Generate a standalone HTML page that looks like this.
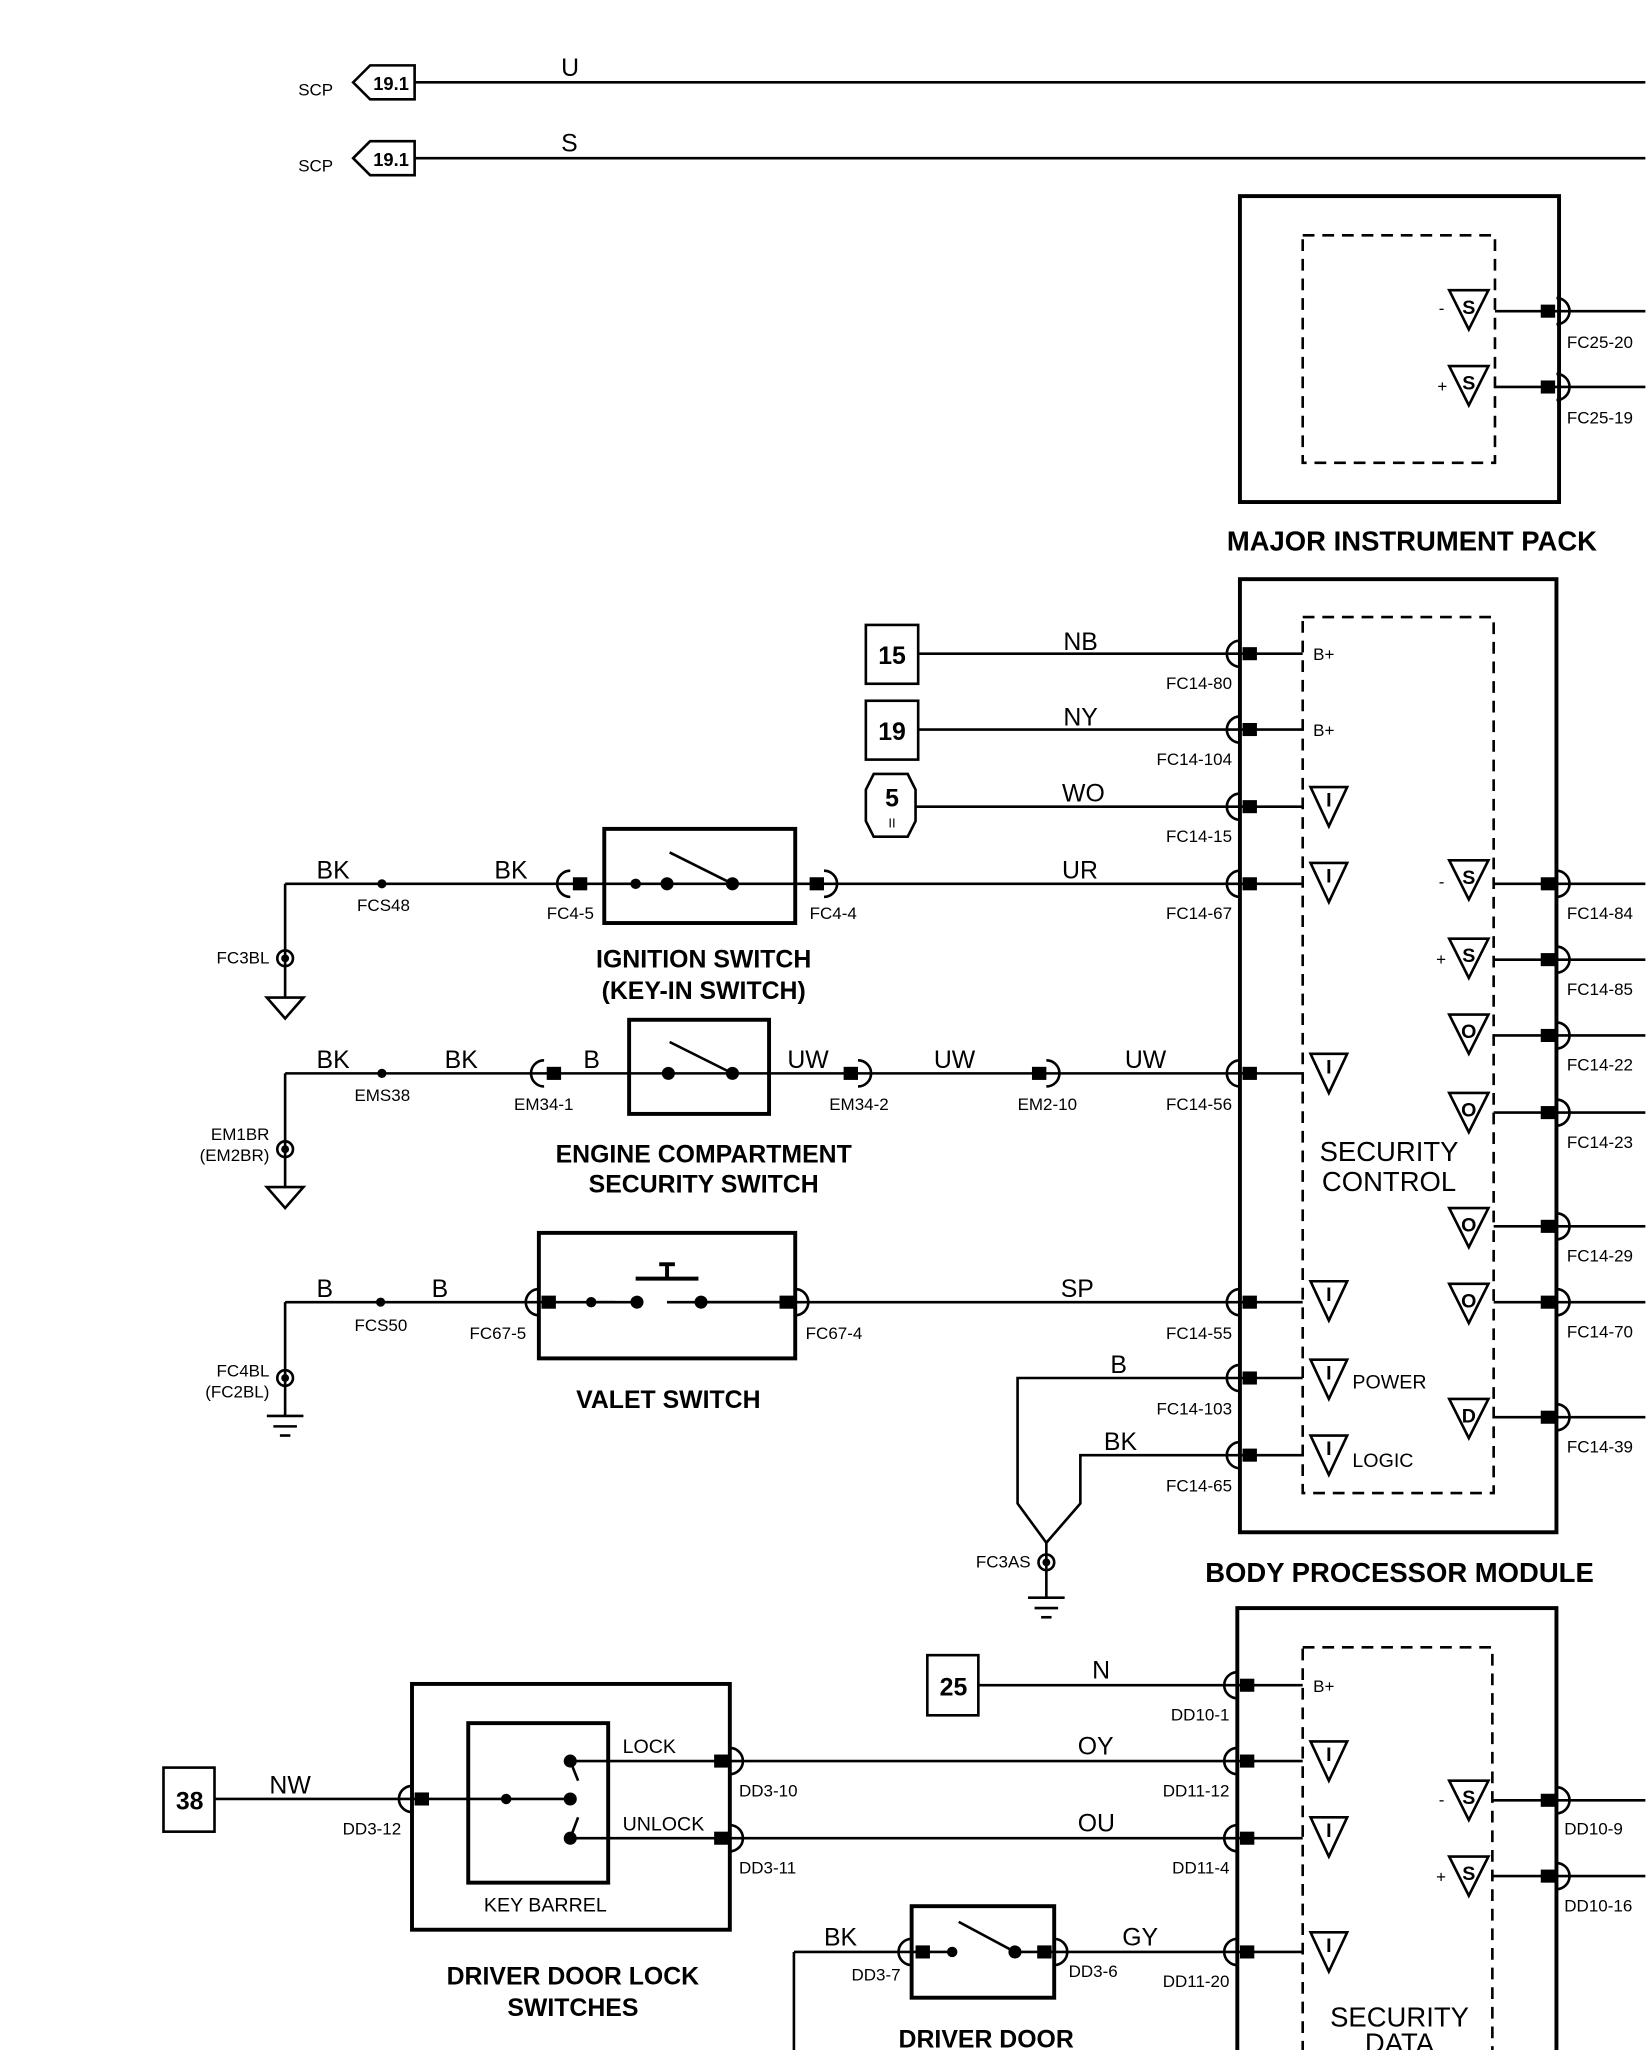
<!DOCTYPE html>
<html><head><meta charset="utf-8"><style>
html,body{margin:0;padding:0;background:#fff}
svg{display:block}
text{font-family:"Liberation Sans",sans-serif;fill:#000}
.s{font-size:13px}
.w{font-size:19px}
.t{font-size:21px;font-weight:bold}
.tl{font-size:19px;font-weight:bold;text-anchor:middle}
.bx{font-size:19px;font-weight:bold;text-anchor:middle}
.tri{font-size:15px;font-weight:bold;text-anchor:middle}
</style></head><body>
<svg width="1648" height="2050" viewBox="0 0 1260 1568" preserveAspectRatio="none" xmlns="http://www.w3.org/2000/svg">
<g stroke="#000" fill="none" stroke-width="2">
<path d="M270,63 L283,50 L317,50 L317,76 L283,76 Z"/>
<path d="M270,121 L283,108 L317,108 L317,134 L283,134 Z"/>
<line x1="317" y1="63" x2="1258" y2="63"/>
<line x1="317" y1="121" x2="1258" y2="121"/>
<rect x="948" y="150" width="244" height="234" stroke-width="3"/>
<rect x="996" y="180" width="147" height="174" stroke-dasharray="9,6"/>
<line x1="1143" y1="238" x2="1258" y2="238"/>
<line x1="1143" y1="296" x2="1258" y2="296"/>
<rect x="948" y="443" width="242" height="729" stroke-width="3"/>
<rect x="996" y="472" width="146" height="670" stroke-dasharray="9,6"/>
<line x1="702" y1="500" x2="996" y2="500"/>
<line x1="702" y1="558" x2="996" y2="558"/>
<line x1="700" y1="617" x2="996" y2="617"/>
<line x1="218" y1="676" x2="996" y2="676"/>
<line x1="218" y1="821" x2="996" y2="821"/>
<line x1="218" y1="996" x2="996" y2="996"/>
<polyline points="996,1054 778,1054 778,1150 800,1180 826,1150 826,1113 996,1113"/>
<line x1="800" y1="1180" x2="800" y2="1222"/>
<line x1="1142" y1="676" x2="1258" y2="676"/>
<line x1="1142" y1="734" x2="1258" y2="734"/>
<line x1="1142" y1="792" x2="1258" y2="792"/>
<line x1="1142" y1="851" x2="1258" y2="851"/>
<line x1="1142" y1="938" x2="1258" y2="938"/>
<line x1="1142" y1="996" x2="1258" y2="996"/>
<line x1="1142" y1="1084" x2="1258" y2="1084"/>
<rect x="662" y="478" width="40" height="45"/>
<rect x="662" y="536" width="40" height="45"/>
<path d="M668,592 L694,592 L700,604 L700,628 L694,640 L668,640 L662,628 L662,604 Z"/>
<rect x="462" y="634" width="146" height="72" stroke-width="3"/>
<line x1="512" y1="652" x2="560" y2="676"/>
<rect x="481" y="780" width="107" height="72" stroke-width="3"/>
<line x1="512" y1="797" x2="560" y2="821"/>
<rect x="412" y="943" width="196" height="96" stroke-width="3"/>
<rect x="470" y="986" width="40" height="20" fill="#fff" stroke="none"/>
<line x1="450" y1="996" x2="487" y2="996"/>
<line x1="536" y1="996" x2="600" y2="996"/>
<line x1="486" y1="978" x2="534" y2="978" stroke-width="3"/>
<line x1="510" y1="978" x2="510" y2="967" stroke-width="3"/>
<line x1="504" y1="967" x2="516" y2="967" stroke-width="3"/>
<line x1="218" y1="676" x2="218" y2="763"/>
<path d="M204,763 L232,763 L218,779 Z"/>
<line x1="218" y1="821" x2="218" y2="908"/>
<path d="M204,908 L232,908 L218,924 Z"/>
<line x1="218" y1="996" x2="218" y2="1083"/>
<line x1="204" y1="1083" x2="232" y2="1083"/>
<line x1="209" y1="1091" x2="227" y2="1091"/>
<line x1="214" y1="1098" x2="222" y2="1098"/>
<line x1="786" y1="1222" x2="814" y2="1222"/>
<line x1="791" y1="1230" x2="809" y2="1230"/>
<line x1="796" y1="1237" x2="804" y2="1237"/>
<rect x="946" y="1230" width="244" height="360" stroke-width="3"/>
<rect x="996" y="1260" width="145" height="340" stroke-dasharray="9,6"/>
<rect x="709" y="1266" width="39" height="46"/>
<line x1="748" y1="1289" x2="996" y2="1289"/>
<line x1="558" y1="1347" x2="996" y2="1347"/>
<line x1="558" y1="1406" x2="996" y2="1406"/>
<line x1="607" y1="1568" x2="607" y2="1493"/>
<line x1="607" y1="1493" x2="996" y2="1493"/>
<line x1="1141" y1="1377" x2="1258" y2="1377"/>
<line x1="1141" y1="1435" x2="1258" y2="1435"/>
<rect x="315" y="1288" width="243" height="188" stroke-width="3"/>
<rect x="358" y="1318" width="107" height="122" stroke-width="3"/>
<rect x="125" y="1352" width="39" height="49"/>
<line x1="164" y1="1376" x2="436" y2="1376"/>
<line x1="436" y1="1347" x2="558" y2="1347"/>
<line x1="436" y1="1406" x2="558" y2="1406"/>
<line x1="436" y1="1347" x2="442" y2="1362"/>
<line x1="442" y1="1390" x2="436" y2="1406"/>
<rect x="697" y="1458" width="109" height="70" stroke-width="3"/>
<rect x="706" y="1485" width="90" height="16" fill="#fff" stroke="none"/>
<line x1="700" y1="1493" x2="728" y2="1493"/>
<line x1="733" y1="1470" x2="776" y2="1493"/>
<line x1="776" y1="1493" x2="804" y2="1493"/>
<path d="M1108,222 L1138,222 L1123,252 Z"/>
<path d="M1108,280 L1138,280 L1123,310 Z"/>
<path d="M1002,602 L1030,602 L1016,632 Z"/>
<path d="M1002,660 L1030,660 L1016,690 Z"/>
<path d="M1002,806 L1030,806 L1016,836 Z"/>
<path d="M1002,980 L1030,980 L1016,1010 Z"/>
<path d="M1002,1040 L1030,1040 L1016,1070 Z"/>
<path d="M1002,1098 L1030,1098 L1016,1128 Z"/>
<path d="M1108,658 L1138,658 L1123,688 Z"/>
<path d="M1108,718 L1138,718 L1123,748 Z"/>
<path d="M1108,776 L1138,776 L1123,806 Z"/>
<path d="M1108,836 L1138,836 L1123,866 Z"/>
<path d="M1108,924 L1138,924 L1123,954 Z"/>
<path d="M1108,982 L1138,982 L1123,1012 Z"/>
<path d="M1108,1070 L1138,1070 L1123,1100 Z"/>
<path d="M1002,1332 L1030,1332 L1016,1362 Z"/>
<path d="M1002,1390 L1030,1390 L1016,1420 Z"/>
<path d="M1002,1478 L1030,1478 L1016,1508 Z"/>
<path d="M1108,1362 L1138,1362 L1123,1392 Z"/>
<path d="M1108,1420 L1138,1420 L1123,1450 Z"/>
<path d="M948,490 a10,10 0 0,0 0,20 M948,548 a10,10 0 0,0 0,20 M948,607 a10,10 0 0,0 0,20 M948,666 a10,10 0 0,0 0,20 M948,811 a10,10 0 0,0 0,20 M948,986 a10,10 0 0,0 0,20 M948,1044 a10,10 0 0,0 0,20 M948,1103 a10,10 0 0,0 0,20"/>
<path d="M1190,228 a10,10 0 0,1 0,20 M1190,286 a10,10 0 0,1 0,20 M1190,666 a10,10 0 0,1 0,20 M1190,724 a10,10 0 0,1 0,20 M1190,782 a10,10 0 0,1 0,20 M1190,841 a10,10 0 0,1 0,20 M1190,928 a10,10 0 0,1 0,20 M1190,986 a10,10 0 0,1 0,20 M1190,1074 a10,10 0 0,1 0,20 M1190,1367 a10,10 0 0,1 0,20 M1190,1425 a10,10 0 0,1 0,20"/>
<path d="M946,1279 a10,10 0 0,0 0,20 M946,1337 a10,10 0 0,0 0,20 M946,1396 a10,10 0 0,0 0,20 M946,1483 a10,10 0 0,0 0,20"/>
<path d="M436,666 a10,10 0 0,0 0,20 M630,666 a10,10 0 0,1 0,20 M416,811 a10,10 0 0,0 0,20 M656,811 a10,10 0 0,1 0,20 M800,811 a10,10 0 0,1 0,20 M412,986 a10,10 0 0,0 0,20 M608,986 a10,10 0 0,1 0,20 M315,1366 a10,10 0 0,0 0,20 M558,1337 a10,10 0 0,1 0,20 M558,1396 a10,10 0 0,1 0,20 M697,1483 a10,10 0 0,0 0,20 M806,1483 a10,10 0 0,1 0,20"/>
<circle cx="218" cy="733" r="6"/><circle cx="218" cy="879" r="6"/><circle cx="218" cy="1054" r="6"/><circle cx="800" cy="1195" r="6"/>
</g>
<g fill="#000">
<circle cx="218" cy="733" r="3"/><circle cx="218" cy="879" r="3"/><circle cx="218" cy="1054" r="3"/><circle cx="800" cy="1195" r="3"/>
<circle cx="292" cy="676" r="3.5"/><circle cx="292" cy="821" r="3.5"/><circle cx="291" cy="996" r="3.5"/>
<circle cx="486" cy="676" r="4"/><circle cx="510" cy="676" r="5"/><circle cx="560" cy="676" r="5"/>
<circle cx="511" cy="821" r="5"/><circle cx="560" cy="821" r="5"/>
<circle cx="452" cy="996" r="4"/><circle cx="487" cy="996" r="5"/><circle cx="536" cy="996" r="5"/>
<circle cx="387" cy="1376" r="4"/><circle cx="436" cy="1376" r="5"/><circle cx="436" cy="1347" r="5"/><circle cx="436" cy="1406" r="5"/>
<circle cx="728" cy="1493" r="4"/><circle cx="776" cy="1493" r="5"/>
<rect x="950" y="495" width="11" height="10"/><rect x="950" y="553" width="11" height="10"/><rect x="950" y="612" width="11" height="10"/><rect x="950" y="671" width="11" height="10"/><rect x="950" y="816" width="11" height="10"/><rect x="950" y="991" width="11" height="10"/><rect x="950" y="1049" width="11" height="10"/><rect x="950" y="1108" width="11" height="10"/>
<rect x="1178" y="233" width="11" height="10"/><rect x="1178" y="291" width="11" height="10"/>
<rect x="1178" y="671" width="11" height="10"/><rect x="1178" y="729" width="11" height="10"/><rect x="1178" y="787" width="11" height="10"/><rect x="1178" y="846" width="11" height="10"/><rect x="1178" y="933" width="11" height="10"/><rect x="1178" y="991" width="11" height="10"/><rect x="1178" y="1079" width="11" height="10"/>
<rect x="948" y="1284" width="11" height="10"/><rect x="948" y="1342" width="11" height="10"/><rect x="948" y="1401" width="11" height="10"/><rect x="948" y="1488" width="11" height="10"/>
<rect x="1178" y="1372" width="11" height="10"/><rect x="1178" y="1430" width="11" height="10"/>
<rect x="438" y="671" width="11" height="10"/><rect x="619" y="671" width="11" height="10"/>
<rect x="418" y="816" width="11" height="10"/><rect x="645" y="816" width="11" height="10"/><rect x="789" y="816" width="11" height="10"/>
<rect x="414" y="991" width="11" height="10"/><rect x="596" y="991" width="11" height="10"/>
<rect x="317" y="1371" width="11" height="10"/><rect x="546" y="1342" width="11" height="10"/><rect x="546" y="1401" width="11" height="10"/>
<rect x="700" y="1488" width="11" height="10"/><rect x="793" y="1488" width="11" height="10"/>
</g>
<text class="s" x="228" y="73">SCP</text><text class="s" x="228" y="131">SCP</text>
<text x="299" y="69" style="font-size:14px;font-weight:bold;text-anchor:middle">19.1</text>
<text x="299" y="127" style="font-size:14px;font-weight:bold;text-anchor:middle">19.1</text>
<text class="w" x="429" y="58">U</text><text class="w" x="429" y="116">S</text>
<text class="tri" x="1123" y="240">S</text><text class="tri" x="1123" y="298">S</text>
<text class="s" x="1100" y="240">-</text><text class="s" x="1099" y="300">+</text>
<text class="s" x="1198" y="266">FC25-20</text><text class="s" x="1198" y="324">FC25-19</text>
<text class="t" x="938" y="421">MAJOR INSTRUMENT PACK</text>
<text class="bx" x="682" y="508">15</text><text class="bx" x="682" y="566">19</text><text class="bx" x="682" y="617">5</text>
<text x="682" y="633" style="font-size:10px;text-anchor:middle">II</text>
<text class="w" x="813" y="497">NB</text><text class="w" x="813" y="555">NY</text><text class="w" x="812" y="613">WO</text><text class="w" x="812" y="672">UR</text>
<text class="w" x="860" y="817">UW</text><text class="w" x="714" y="817">UW</text><text class="w" x="602" y="817">UW</text>
<text class="w" x="446" y="817">B</text><text class="w" x="340" y="817">BK</text><text class="w" x="242" y="817">BK</text>
<text class="w" x="242" y="672">BK</text><text class="w" x="378" y="672">BK</text>
<text class="w" x="242" y="992">B</text><text class="w" x="330" y="992">B</text><text class="w" x="811" y="992">SP</text>
<text class="w" x="849" y="1050">B</text><text class="w" x="844" y="1109">BK</text>
<g class="s" text-anchor="end">
<text x="942" y="527">FC14-80</text><text x="942" y="585">FC14-104</text><text x="942" y="644">FC14-15</text><text x="942" y="703">FC14-67</text><text x="942" y="849">FC14-56</text><text x="942" y="1024">FC14-55</text><text x="942" y="1082">FC14-103</text><text x="942" y="1141">FC14-65</text>
<text x="940" y="1316">DD10-1</text><text x="940" y="1374">DD11-12</text><text x="940" y="1433">DD11-4</text><text x="940" y="1520">DD11-20</text>
<text x="206" y="737">FC3BL</text><text x="206" y="872">EM1BR</text><text x="206" y="888">(EM2BR)</text><text x="206" y="1053">FC4BL</text><text x="206" y="1069">(FC2BL)</text>
<text x="788" y="1199">FC3AS</text>
</g>
<g class="s">
<text x="1198" y="703">FC14-84</text><text x="1198" y="761">FC14-85</text><text x="1198" y="819">FC14-22</text><text x="1198" y="878">FC14-23</text><text x="1198" y="965">FC14-29</text><text x="1198" y="1023">FC14-70</text><text x="1198" y="1111">FC14-39</text>
<text x="1196" y="1403">DD10-9</text><text x="1196" y="1462">DD10-16</text>
<text x="1004" y="505">B+</text><text x="1004" y="563">B+</text><text x="1004" y="1294">B+</text>
<text x="273" y="697">FCS48</text><text x="271" y="842">EMS38</text><text x="271" y="1018">FCS50</text>
<text x="418" y="703">FC4-5</text><text x="619" y="703">FC4-4</text>
<text x="393" y="849">EM34-1</text><text x="634" y="849">EM34-2</text><text x="778" y="849">EM2-10</text>
<text x="359" y="1024">FC67-5</text><text x="616" y="1024">FC67-4</text>
<text x="1034" y="1062" style="font-size:15px">POWER</text><text x="1034" y="1122" style="font-size:15px">LOGIC</text>
<text x="262" y="1403">DD3-12</text><text x="565" y="1374">DD3-10</text><text x="565" y="1433">DD3-11</text>
<text x="651" y="1515">DD3-7</text><text x="817" y="1512">DD3-6</text>
<text x="476" y="1341" style="font-size:15px">LOCK</text><text x="476" y="1400" style="font-size:15px">UNLOCK</text>
<text x="370" y="1462" style="font-size:15px">KEY BARREL</text>
<text x="1100" y="679">-</text><text x="1098" y="738">+</text><text x="1100" y="1381">-</text><text x="1098" y="1440">+</text>
</g>
<g class="tri">
<text x="1016" y="617">I</text><text x="1016" y="675">I</text><text x="1016" y="821">I</text><text x="1016" y="995">I</text><text x="1016" y="1055">I</text><text x="1016" y="1113">I</text>
<text x="1123" y="676">S</text><text x="1123" y="736">S</text><text x="1123" y="794">O</text><text x="1123" y="854">O</text><text x="1123" y="942">O</text><text x="1123" y="1000">O</text><text x="1123" y="1088">D</text>
<text x="1016" y="1347">I</text><text x="1016" y="1405">I</text><text x="1016" y="1493">I</text>
<text x="1123" y="1380">S</text><text x="1123" y="1438">S</text>
</g>
<text x="1062" y="888" style="font-size:21px;text-anchor:middle">SECURITY</text>
<text x="1062" y="911" style="font-size:21px;text-anchor:middle">CONTROL</text>
<text x="1070" y="1550" style="font-size:21px;text-anchor:middle">SECURITY</text>
<text x="1070" y="1570" style="font-size:21px;text-anchor:middle">DATA</text>
<text class="tl" x="538" y="740">IGNITION SWITCH</text>
<text class="tl" x="538" y="764">(KEY-IN SWITCH)</text>
<text class="tl" x="538" y="889">ENGINE COMPARTMENT</text>
<text class="tl" x="538" y="912">SECURITY SWITCH</text>
<text class="tl" x="511" y="1077">VALET SWITCH</text>
<text class="t" x="1070" y="1210" text-anchor="middle">BODY PROCESSOR MODULE</text>
<text class="bx" x="729" y="1297">25</text><text class="w" x="835" y="1284">N</text>
<text class="w" x="824" y="1342">OY</text><text class="w" x="824" y="1401">OU</text>
<text class="bx" x="145" y="1384">38</text><text class="w" x="206" y="1372">NW</text>
<text class="w" x="630" y="1488">BK</text><text class="w" x="858" y="1488">GY</text>
<text class="tl" x="438" y="1518">DRIVER DOOR LOCK</text>
<text class="tl" x="438" y="1542">SWITCHES</text>
<text class="tl" x="754" y="1566">DRIVER DOOR</text>
</svg>
</body></html>
